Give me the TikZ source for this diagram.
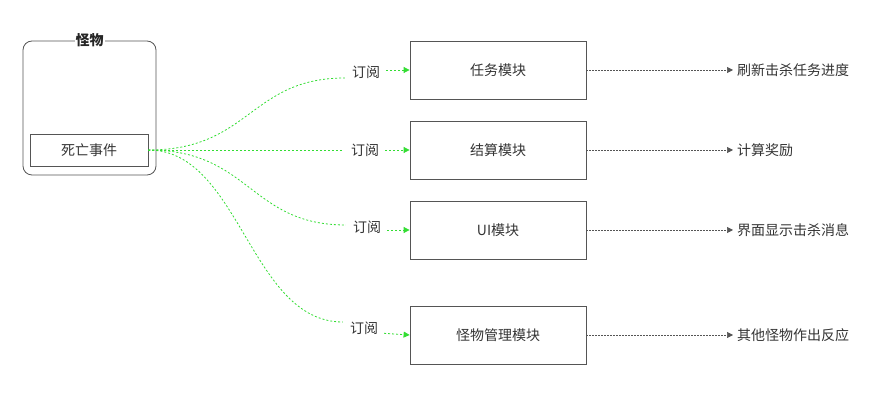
\documentclass[tikz,border=0pt]{standalone}
\usepackage{fontspec}
\setmainfont{Noto Sans CJK SC}
\usetikzlibrary{arrows.meta}
\definecolor{lg}{HTML}{33DD33}
\definecolor{bd}{HTML}{555555}
\tikzset{
  modbox/.style={draw=bd, line width=0.8pt, minimum width=176pt, minimum height=58pt, inner sep=0pt, font=\fontsize{14}{16}\selectfont, text=black!80},
  lbl/.style={inner sep=1pt, font=\fontsize{14}{16}\selectfont, text=black!80},
  sub/.style={draw=lg, line width=0.8pt, dash pattern=on 2pt off 2pt},
  subar/.style={sub, -{Triangle[length=6pt,width=6pt]}},
  res/.style={draw=bd, line width=0.7pt, dash pattern=on 1.5pt off 1.5pt, -{Triangle[length=6pt,width=6pt]}, shorten >=3pt}
}
\begin{document}
\begin{tikzpicture}[x=1pt,y=-1pt]
\useasboundingbox (0,0) rectangle (892,403);
% container
\node[draw=bd, line width=0.8pt, rounded corners=9pt, minimum width=133pt, minimum height=134pt, inner sep=0pt] (mon) at (89.5,108) {};
\node[font=\fontsize{14}{16}\selectfont\bfseries, fill=white, inner sep=1pt, text=black!85] (mont) at (89.5,40) {怪物};
\node[draw=bd, line width=0.8pt, minimum width=118pt, minimum height=32pt, inner sep=0pt, font=\fontsize{14}{16}\selectfont, text=black!80] (death) at (89,150) {死亡事件};
% modules
\node[modbox] (m1) at (498,70) {任务模块};
\node[modbox] (m2) at (498,150) {结算模块};
\node[modbox] (m3) at (498,230) {UI模块};
\node[modbox] (m4) at (498,335) {怪物管理模块};
% subscribe labels
\node[lbl] (s1) at (366,72) {订阅};
\node[lbl] (s2) at (365,150) {订阅};
\node[lbl] (s3) at (367,227) {订阅};
\node[lbl] (s4) at (364,328) {订阅};
% results
\node[lbl, anchor=west] (r1) at (736,70) {刷新击杀任务进度};
\node[lbl, anchor=west] (r2) at (736,150) {计算奖励};
\node[lbl, anchor=west] (r3) at (736,230) {界面显示击杀消息};
\node[lbl, anchor=west] (r4) at (736,335) {其他怪物作出反应};
% green curves
\coordinate (e) at (death.east);
\draw[sub, shorten >=6pt] (e) .. controls (250,150) and (250,78) .. (s1.west|-0,78);
\draw[sub, shorten >=6pt] (e) -- (s2.west);
\draw[sub, shorten >=6pt] (e) .. controls (250,150) and (250,225) .. (s3.west|-0,225);
\draw[sub, shorten >=6pt] (e) .. controls (240,150) and (250,322) .. (s4.west|-0,322);
% short arrows
\draw[subar, shorten <=5pt] (s1.east|-0,70) -- (m1.west);
\draw[subar, shorten <=5pt] (s2.east|-0,150) -- (m2.west);
\draw[subar, shorten <=5pt] (s3.east|-0,230) -- (m3.west);
\draw[subar, shorten <=5pt] (s4.east|-0,333) -- (m4.west);
% result arrows
\draw[res] (m1.east) -- (r1.west);
\draw[res] (m2.east) -- (r2.west);
\draw[res] (m3.east) -- (r3.west);
\draw[res] (m4.east) -- (r4.west);
\end{tikzpicture}
\end{document}
